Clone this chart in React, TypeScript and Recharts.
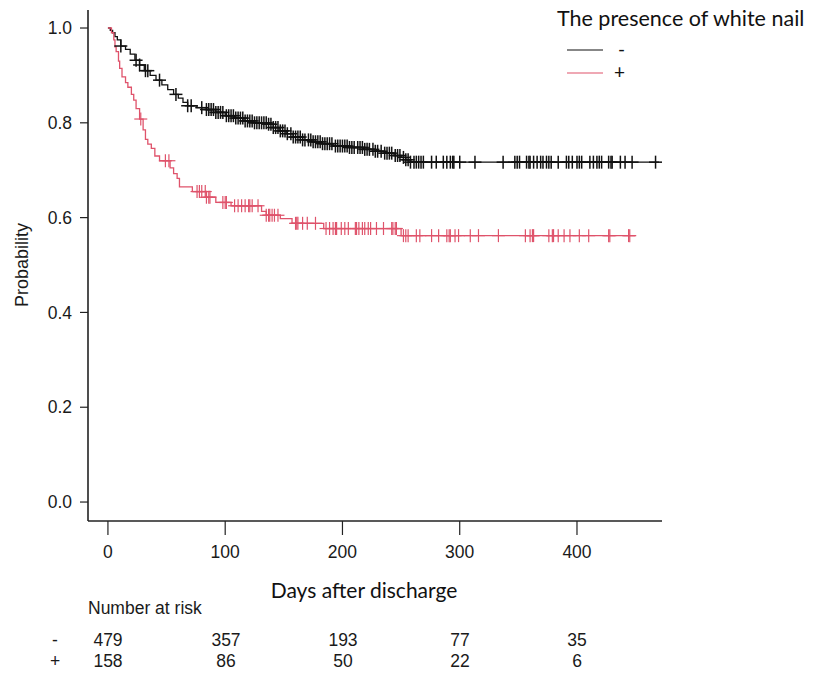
import { ComposedChart, Line, Scatter, XAxis, YAxis } from "recharts";

// Kaplan-Meier step points, white nail absent (-)
const minusTime = [0, 2, 4, 6, 8, 11, 15, 19, 23, 27, 31, 36, 41, 46, 51, 56, 60, 64, 68, 76, 84, 92, 100, 108, 116, 125, 136, 141, 146, 152, 158, 166, 174, 182, 192, 205, 218, 228, 236, 244, 250, 254, 258, 470];
const minusSurv = [1, 0.995, 0.99, 0.982, 0.975, 0.962, 0.955, 0.945, 0.932, 0.922, 0.91, 0.9, 0.89, 0.88, 0.87, 0.86, 0.852, 0.843, 0.836, 0.832, 0.828, 0.822, 0.815, 0.81, 0.804, 0.8, 0.797, 0.79, 0.783, 0.777, 0.77, 0.764, 0.76, 0.756, 0.751, 0.748, 0.744, 0.74, 0.736, 0.731, 0.727, 0.722, 0.717, 0.717];

// white nail present (+)
const plusTime = [0, 3, 5, 6, 7, 9, 10, 12, 15, 17, 20, 22, 24, 27, 30, 32, 34, 37, 40, 44, 53, 56, 59, 61, 72, 84, 92, 105, 131, 135, 147, 157, 184, 250, 450];
const plusSurv = [1, 0.99, 0.975, 0.96, 0.95, 0.93, 0.915, 0.897, 0.885, 0.875, 0.86, 0.848, 0.83, 0.808, 0.785, 0.765, 0.755, 0.746, 0.73, 0.72, 0.705, 0.693, 0.683, 0.665, 0.655, 0.643, 0.632, 0.625, 0.613, 0.605, 0.598, 0.588, 0.577, 0.562, 0.562];

// censoring times
const minusCensor = [11, 24, 27, 32, 34, 44, 58, 68, 71, 80, 84, 86, 88, 90, 92, 94, 96, 98, 101, 103, 105, 107, 109, 111, 113, 115, 117, 119, 121, 123, 125, 127, 129, 131, 133, 135, 137, 139, 141, 143, 145, 147, 149, 151, 153, 156, 158, 160, 162, 164, 166, 168, 171, 173, 175, 177, 179, 181, 183, 185, 187, 189, 191, 194, 196, 198, 200, 202, 204, 206, 208, 210, 213, 215, 217, 219, 221, 223, 226, 228, 230, 233, 236, 238, 240, 242, 245, 247, 249, 252, 254, 256, 258, 261, 263, 265, 267, 269, 276, 280, 286, 289, 292, 294, 295, 300, 313, 337, 347, 349, 351, 357, 359, 360, 363, 366, 369, 371, 374, 376, 378, 384, 391, 393, 396, 400, 402, 404, 411, 414, 417, 419, 421, 427, 429, 430, 437, 441, 447, 467];
const plusCensor = [28, 49, 52, 76, 78, 80, 83, 84, 86, 87, 98, 100, 101, 108, 111, 114, 117, 120, 121, 123, 128, 135, 137, 138, 140, 142, 145, 160, 161, 162, 166, 170, 177, 186, 189, 192, 194, 195, 199, 202, 205, 211, 212, 214, 217, 219, 222, 224, 229, 235, 242, 243, 245, 246, 252, 254, 256, 263, 266, 276, 282, 289, 291, 292, 296, 299, 309, 316, 333, 356, 360, 362, 363, 376, 379, 380, 384, 389, 394, 402, 410, 427, 428, 444, 445];

const xTicks = [0, 100, 200, 300, 400];
const yTicks = [0, 0.2, 0.4, 0.6, 0.8, 1.0];
const riskMinus = [479, 357, 193, 77, 35];
const riskPlus = [158, 86, 50, 22, 6];

const BLACK = "#111";
const RED = "#DF536B";

const steps = (t: number[], s: number[]) => t.map((v, i) => ({ t: v, s: s[i] }));
// a censor mark sits on the curve at its time
const marks = (c: number[], t: number[], s: number[]) =>
  c.map((v) => {
    let k = 0;
    while (k + 1 < t.length && t[k + 1] <= v) k++;
    return { t: v, s: s[k] };
  });

const minusLine = steps(minusTime, minusSurv);
const plusLine = steps(plusTime, plusSurv);
const minusMarks = marks(minusCensor, minusTime, minusSurv);
const plusMarks = marks(plusCensor, plusTime, plusSurv);

const plusShape = (color: string, w: number) => (p: any) => (
  <g stroke={color} strokeWidth={w}>
    <line x1={p.cx - 6.5} x2={p.cx + 6.5} y1={p.cy} y2={p.cy} />
    <line x1={p.cx} x2={p.cx} y1={p.cy - 6.5} y2={p.cy + 6.5} />
  </g>
);

const axisFont = { fontFamily: "'Liberation Sans', Arial, sans-serif", fontSize: 17.5, fill: "#1a1a1a" };
const calibri = "Lato, 'Open Sans', sans-serif";
const colX = [108, 226, 343, 460, 577];

export default function App() {
  return (
    <div style={{ position: "absolute", left: 0, top: 0, width: 818, height: 674, background: "#fff" }}>
      <ComposedChart width={818} height={674} margin={{ top: 10, right: 156, left: 0, bottom: 113 }}>
        <XAxis
          dataKey="t"
          type="number"
          domain={[-17, 472.5]}
          ticks={xTicks}
          allowDataOverflow
          height={40}
          tickSize={14}
          tickMargin={11}
          axisLine={{ stroke: "#222", strokeWidth: 1.6 }}
          tickLine={{ stroke: "#222", strokeWidth: 1.2 }}
          tick={axisFont}
        />
        <YAxis
          dataKey="s"
          type="number"
          domain={[-0.04, 1.038]}
          ticks={yTicks}
          allowDataOverflow
          width={88}
          tickSize={8}
          tickMargin={8}
          tickFormatter={(v: number) => v.toFixed(1)}
          axisLine={{ stroke: "#222", strokeWidth: 1.6 }}
          tickLine={{ stroke: "#222", strokeWidth: 1.2 }}
          tick={axisFont}
        />
        <Line data={minusLine} dataKey="s" type="stepAfter" stroke={BLACK} strokeWidth={1.3} dot={false} isAnimationActive={false} />
        <Line data={plusLine} dataKey="s" type="stepAfter" stroke={RED} strokeWidth={1.3} dot={false} isAnimationActive={false} />
        <Scatter data={minusMarks} dataKey="s" shape={plusShape(BLACK, 1.5)} isAnimationActive={false} />
        <Scatter data={plusMarks} dataKey="s" shape={plusShape(RED, 1.2)} isAnimationActive={false} />
      </ComposedChart>

      <div
        style={{
          position: "absolute", left: 22, top: 265, transform: "translate(-50%, -50%) rotate(-90deg)",
          fontFamily: axisFont.fontFamily, fontSize: 18, color: "#1a1a1a", whiteSpace: "nowrap",
        }}
      >
        Probability
      </div>

      <div style={{ position: "absolute", left: 557, top: 5, fontFamily: calibri, fontSize: 21.5, color: "#111", whiteSpace: "nowrap" }}>
        The presence of white nail
      </div>
      <svg style={{ position: "absolute", left: 0, top: 0 }} width={818} height={674}>
        <line x1={567} x2={603} y1={50} y2={50} stroke={BLACK} strokeWidth={1.2} />
        <line x1={567} x2={603} y1={73} y2={73} stroke={RED} strokeWidth={1.2} />
        <text x={618} y={56} fontFamily={calibri} fontSize={19} fill="#111">-</text>
        <text x={614} y={79} fontFamily={calibri} fontSize={19} fill="#111">+</text>
      </svg>

      <div style={{ position: "absolute", left: 364, top: 589, transform: "translate(-50%, -50%)", fontFamily: calibri, fontSize: 21, color: "#111", whiteSpace: "nowrap" }}>
        Days after discharge
      </div>

      <div style={{ position: "absolute", left: 88, top: 598, fontFamily: axisFont.fontFamily, fontSize: 17.5, color: "#1a1a1a" }}>
        Number at risk
      </div>
      {[riskMinus, riskPlus].map((row, r) => (
        <div key={r}>
          <div style={{ position: "absolute", left: 55, top: (r ? 662 : 641) - 11, transform: "translateX(-50%)", fontFamily: axisFont.fontFamily, fontSize: 17.5, color: "#1a1a1a" }}>
            {r ? "+" : "-"}
          </div>
          {row.map((n, i) => (
            <div
              key={i}
              style={{ position: "absolute", left: colX[i], top: (r ? 662 : 641) - 11, transform: "translateX(-50%)", fontFamily: axisFont.fontFamily, fontSize: 17.5, color: "#1a1a1a" }}
            >
              {n}
            </div>
          ))}
        </div>
      ))}
    </div>
  );
}
